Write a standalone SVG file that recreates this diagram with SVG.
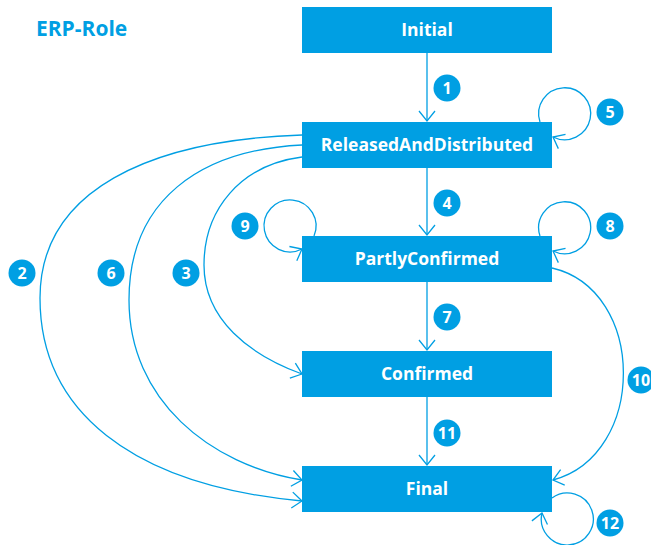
<svg xmlns="http://www.w3.org/2000/svg" width="651" height="545" viewBox="0 0 651 545">
<defs>
<style>
.node rect{fill:#009FE3}
.node text{fill:#fff;font-family:"Open Sans","Noto Sans",sans-serif;font-weight:700;font-size:17.5px;text-anchor:middle}
.edge{fill:none;stroke:#009FE3;stroke-width:1.3;marker-end:url(#arr)}
.badge circle{fill:#009FE3}
.badge text{fill:#fff;font-family:"Open Sans","Noto Sans",sans-serif;font-weight:700;font-size:16px;text-anchor:middle}
</style>
<marker id="arr" markerUnits="userSpaceOnUse" markerWidth="24" markerHeight="24" viewBox="-12 -12 24 24" refX="0" refY="0" orient="auto">
<path d="M-10,-8 L0,0 L-10,8" fill="none" stroke="#009FE3" stroke-width="1.3"/>
</marker>
</defs>
<rect width="651" height="545" fill="#fff"/>
<text x="36" y="36" font-family="'Open Sans','Noto Sans',sans-serif" font-weight="700" font-size="21" fill="#009FE3">ERP-Role</text>
<g id="connectors">
<path class="edge" d="M427,53 L427,121"/>
<path class="edge" d="M427,168 L427,235"/>
<path class="edge" d="M427,282 L427,350"/>
<path class="edge" d="M427,397 L427,465"/>
<path class="edge" d="M540,122 A26,26 0 1 1 553,137"/>
<path class="edge" d="M540,236 A26,26 0 1 1 553,251"/>
<path class="edge" d="M314,236 A26,26 0 1 0 302,249"/>
<path class="edge" d="M552,498 A26,26 0 1 1 542,513"/>
<path class="edge" d="M552,268 C647,290 647,455 553,480"/>
<path class="edge" d="M302,135 C150,140 40,190 40,298 C40,410 130,485 302,501"/>
<path class="edge" d="M302,145 C200,150 129,200 129,300 C129,400 210,465 302,480"/>
<path class="edge" d="M302,157 C240,165 204,210 204,265 C204,320 250,355 302,374"/>
</g>
<g id="n-initial" class="node"><rect x="302" y="7" width="250" height="46"/><text x="427" y="36">Initial</text></g>
<g id="n-released" class="node"><rect x="302" y="122" width="250" height="46"/><text x="427" y="151">ReleasedAndDistributed</text></g>
<g id="n-partly" class="node"><rect x="302" y="236" width="250" height="46"/><text x="427" y="265">PartlyConfirmed</text></g>
<g id="n-confirmed" class="node"><rect x="302" y="351" width="250" height="46"/><text x="427" y="380">Confirmed</text></g>
<g id="n-final" class="node"><rect x="302" y="466" width="250" height="46"/><text x="427" y="495">Final</text></g>
<g id="labels">
<g class="badge"><circle cx="447" cy="88" r="13.5"/><text x="447" y="93.5">1</text></g>
<g class="badge"><circle cx="22" cy="273" r="13.5"/><text x="22" y="278.5">2</text></g>
<g class="badge"><circle cx="186" cy="273" r="13.5"/><text x="186" y="278.5">3</text></g>
<g class="badge"><circle cx="447" cy="203" r="13.5"/><text x="447" y="208.5">4</text></g>
<g class="badge"><circle cx="610" cy="112" r="13.5"/><text x="610" y="117.5">5</text></g>
<g class="badge"><circle cx="111" cy="273" r="13.5"/><text x="111" y="278.5">6</text></g>
<g class="badge"><circle cx="447" cy="317" r="13.5"/><text x="447" y="322.5">7</text></g>
<g class="badge"><circle cx="610" cy="226" r="13.5"/><text x="610" y="231.5">8</text></g>
<g class="badge"><circle cx="245" cy="226" r="13.5"/><text x="245" y="231.5">9</text></g>
<g class="badge"><circle cx="641" cy="380" r="13.5"/><text x="641" y="385.5">10</text></g>
<g class="badge"><circle cx="447" cy="433" r="13.5"/><text x="447" y="438.5">11</text></g>
<g class="badge"><circle cx="610" cy="523" r="13.5"/><text x="610" y="528.5">12</text></g>
</g>
</svg>
